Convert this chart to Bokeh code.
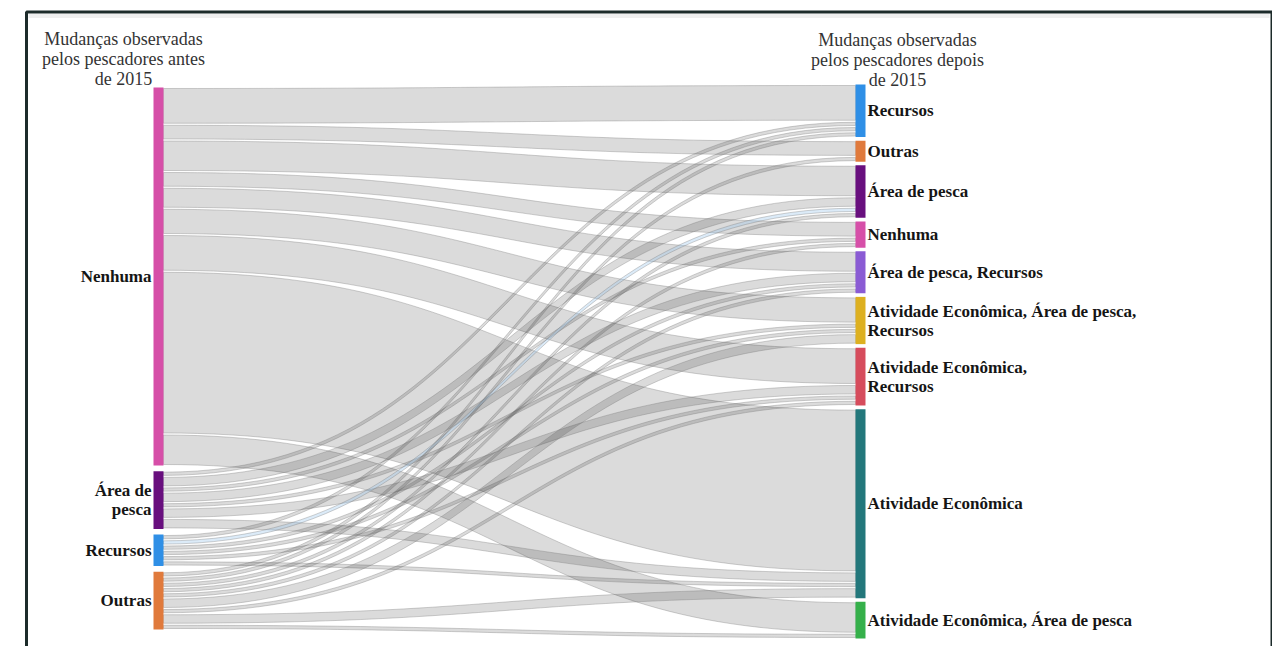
import numpy as np
from bokeh.plotting import figure
from bokeh.models import Range1d, ColumnDataSource
from bokeh.core.properties import value
from bokeh.embed import file_html
from bokeh.resources import INLINE

# ---------------- data ----------------
left_nodes = ["Nenhuma", "Área de pesca", "Recursos", "Outras"]
left_labels = ["Nenhuma", "Área de\npesca", "Recursos", "Outras"]
left_colors = ["#d64fa8", "#680f7e", "#2f8fe6", "#e07a3c"]

right_nodes = ["Recursos", "Outras", "Área de pesca", "Nenhuma",
               "Área de pesca, Recursos",
               "Atividade Econômica, Área de pesca, Recursos",
               "Atividade Econômica, Recursos",
               "Atividade Econômica",
               "Atividade Econômica, Área de pesca"]
right_labels = ["Recursos", "Outras", "Área de pesca", "Nenhuma",
                "Área de pesca, Recursos",
                "Atividade Econômica, Área de pesca,\nRecursos",
                "Atividade Econômica,\nRecursos",
                "Atividade Econômica",
                "Atividade Econômica, Área de pesca"]
right_colors = ["#2f8fe6", "#e07a3c", "#680f7e", "#d64fa8", "#8a5bd4",
                "#ddb020", "#d64c5c", "#23777b", "#35b04a"]

link_source = ["Nenhuma"] * 9 + ["Área de pesca"] * 7 + ["Recursos"] * 6 + ["Outras"] * 9
link_target = [
    # Nenhuma
    "Recursos", "Outras", "Área de pesca", "Nenhuma", "Área de pesca, Recursos",
    "Atividade Econômica, Área de pesca, Recursos", "Atividade Econômica, Recursos",
    "Atividade Econômica", "Atividade Econômica, Área de pesca",
    # Área de pesca
    "Recursos", "Área de pesca", "Nenhuma", "Área de pesca, Recursos",
    "Atividade Econômica, Área de pesca, Recursos", "Atividade Econômica, Recursos",
    "Atividade Econômica",
    # Recursos
    "Recursos", "Área de pesca", "Área de pesca, Recursos",
    "Atividade Econômica, Área de pesca, Recursos", "Atividade Econômica, Recursos",
    "Atividade Econômica",
    # Outras
    "Recursos", "Outras", "Área de pesca", "Nenhuma", "Área de pesca, Recursos",
    "Atividade Econômica, Área de pesca, Recursos", "Atividade Econômica, Recursos",
    "Atividade Econômica", "Atividade Econômica, Área de pesca",
]
link_value = [7, 3, 6, 3, 4, 5, 7, 31, 6,
              1, 2, 1, 2, 1, 2, 2,
              1, 1, 1, 1, 1, 1,
              1, 1, 1, 1, 1, 2, 1, 2, 1]

title_left = ["Mudanças observadas", "pelos pescadores antes", "de 2015"]
title_right = ["Mudanças observadas", "pelos pescadores depois", "de 2015"]

# ---------------- layout (pixel space) ----------------
W, H = 1272, 646
K = 5.25                  # px per respondent
LX0, LX1 = 153, 163       # left node column
RX0, RX1 = 855, 865       # right node column
L_SPAN = (87, 629)
R_SPAN = (84, 638)

def stack(nodes, src_or_tgt, span):
    tot = {n: 0 for n in nodes}
    for s, t, v in zip(link_source, link_target, link_value):
        key = s if src_or_tgt == "s" else t
        tot[key] += v
    total = sum(tot.values())
    pad = (span[1] - span[0] - K * total) / (len(nodes) - 1)
    pos = {}
    y = span[0]
    for n in nodes:
        pos[n] = (y, y + K * tot[n])
        y += K * tot[n] + pad
    return pos

lpos = stack(left_nodes, "s", L_SPAN)
rpos = stack(right_nodes, "t", R_SPAN)

idx = list(range(len(link_value)))
src_off = {}
cur = {n: lpos[n][0] for n in left_nodes}
for i in sorted(idx, key=lambda i: (left_nodes.index(link_source[i]), right_nodes.index(link_target[i]))):
    s = link_source[i]
    src_off[i] = (cur[s], cur[s] + K * link_value[i])
    cur[s] += K * link_value[i]
tgt_off = {}
cur = {n: rpos[n][0] for n in right_nodes}
for i in sorted(idx, key=lambda i: (right_nodes.index(link_target[i]), left_nodes.index(link_source[i]))):
    t = link_target[i]
    tgt_off[i] = (cur[t], cur[t] + K * link_value[i])
    cur[t] += K * link_value[i]

tt = np.linspace(0, 1, 60)
def bez(x0, y0, x1, y1):
    xm = (x0 + x1) / 2
    bx = (1 - tt) ** 3 * x0 + 3 * (1 - tt) ** 2 * tt * xm + 3 * (1 - tt) * tt ** 2 * xm + tt ** 3 * x1
    by = (1 - tt) ** 3 * y0 + 3 * (1 - tt) ** 2 * tt * y0 + 3 * (1 - tt) * tt ** 2 * y1 + tt ** 3 * y1
    return bx, by

xs, ys, fills, alphas = [], [], [], []
INSET = 1.0
for i in idx:
    sy0, sy1 = src_off[i]
    ty0, ty1 = tgt_off[i]
    ax, ay = bez(LX1, sy0 + INSET, RX0, ty0 + INSET)
    bx, by = bez(LX1, sy1 - INSET, RX0, ty1 - INSET)
    xs.append(list(ax) + list(bx[::-1]))
    ys.append(list(ay) + list(by[::-1]))
    if link_source[i] == "Recursos" and link_target[i] == "Área de pesca":
        fills.append("#9cc6ea"); alphas.append(0.35)
    else:
        fills.append("#000000"); alphas.append(0.14)

# ---------------- figure ----------------
p = figure(width=W, height=H, output_backend="svg", toolbar_location=None,
           x_range=Range1d(0, W), y_range=Range1d(H, 0),
           min_border=0, min_border_left=0, min_border_right=0,
           min_border_top=0, min_border_bottom=0)
p.axis.visible = False
p.grid.visible = False
p.outline_line_color = None
p.background_fill_color = "white"
p.border_fill_color = "white"

# frame
p.line([28, 1269], [15.5, 15.5], line_color="#efefef", line_width=4)
p.line([26, 26, 1271.5, 1271.5], [700, 11.5, 11.5, 700], line_color="#1c2b2a", line_width=3)

p.patches(xs=xs, ys=ys, fill_color=fills, fill_alpha=alphas,
          line_color="#7a7a7a", line_alpha=0.45, line_width=0.8)

# nodes
p.quad(left=[LX0] * len(left_nodes), right=[LX1] * len(left_nodes),
       top=[lpos[n][0] for n in left_nodes], bottom=[lpos[n][1] for n in left_nodes],
       fill_color=left_colors, line_color=None)
p.quad(left=[RX0] * len(right_nodes), right=[RX1] * len(right_nodes),
       top=[rpos[n][0] for n in right_nodes], bottom=[rpos[n][1] for n in right_nodes],
       fill_color=right_colors, line_color=None)

LH = 19
def label_rows(labels, pos, nodes, x):
    tx, ty, tl = [], [], []
    for lab, n in zip(labels, nodes):
        lines = lab.split("\n")
        c = (pos[n][0] + pos[n][1]) / 2
        for j, ln in enumerate(lines):
            tx.append(x)
            ty.append(c + (j - (len(lines) - 1) / 2) * LH)
            tl.append(ln)
    return dict(x=tx, y=ty, text=tl)

font = value("Liberation Serif")
p.text(source=ColumnDataSource(label_rows(left_labels, lpos, left_nodes, LX0 - 2)),
       x="x", y="y", text="text", text_font=font, text_font_style="bold",
       text_font_size="17px", text_align="right", text_baseline="middle", text_color="#151515")
p.text(source=ColumnDataSource(label_rows(right_labels, rpos, right_nodes, RX1 + 2)),
       x="x", y="y", text="text", text_font=font, text_font_style="bold",
       text_font_size="17px", text_align="left", text_baseline="middle", text_color="#151515")

TL = 20
p.text(x=[123] * 3, y=[38 + TL * j for j in range(3)], text=title_left,
       text_font=font, text_font_size="18px", text_align="center",
       text_baseline="middle", text_color="#333333")
p.text(x=[897] * 3, y=[39 + TL * j for j in range(3)], text=title_right,
       text_font=font, text_font_size="18px", text_align="center",
       text_baseline="middle", text_color="#333333")

open("out.html", "w").write(file_html(p, INLINE))
